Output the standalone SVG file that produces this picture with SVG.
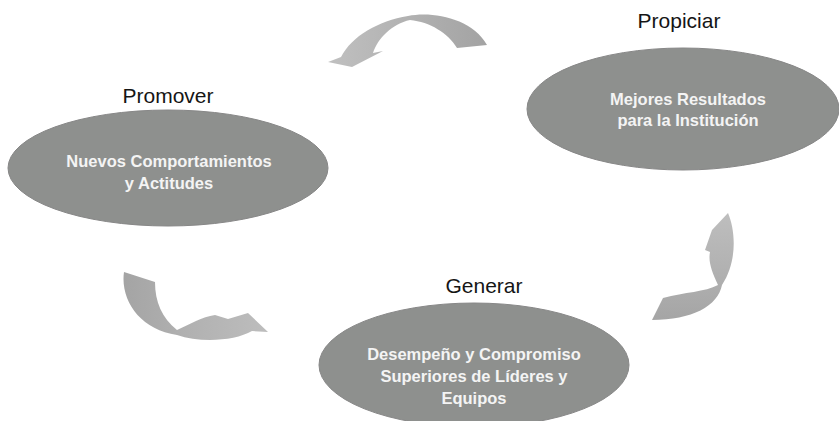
<svg xmlns="http://www.w3.org/2000/svg" width="839" height="421" viewBox="0 0 839 421">
<style>
.lbl{font-family:"Liberation Sans",Arial,sans-serif;font-size:21px;fill:#151515;text-anchor:middle}
.in{font-family:"Liberation Sans",Arial,sans-serif;font-size:16.5px;font-weight:bold;fill:#f4f4f4;text-anchor:middle}
.el{fill:#8e908e;stroke:#878787;stroke-width:1}
.arr{stroke:none}
</style>
<defs>
<linearGradient id="gTop" x1="1" y1="0" x2="0" y2="0">
<stop offset="0" stop-color="#a3a3a3"/><stop offset="0.45" stop-color="#b0b0b0"/><stop offset="1" stop-color="#c0c0c0"/>
</linearGradient>
<linearGradient id="gLeft" x1="0" y1="0" x2="1" y2="0">
<stop offset="0" stop-color="#a4a4a4"/><stop offset="0.4" stop-color="#b0b0b0"/><stop offset="1" stop-color="#bdbdbd"/>
</linearGradient>
<linearGradient id="gRight" x1="0" y1="1" x2="0" y2="0">
<stop offset="0" stop-color="#a5a5a5"/><stop offset="0.5" stop-color="#b2b2b2"/><stop offset="1" stop-color="#bebebe"/>
</linearGradient>
</defs>
<rect width="839" height="421" fill="#ffffff"/>
<g id="connectors">
<path class="arr" fill="url(#gTop)" d="M 408,16 C 432,11 472,18 487,45 L 457,48 C 448,33 430,22 410,20 C 392,24 378,38 373,53 L 383,51 L 352,67 L 328,62 L 341,57 C 352,36 378,21 408,16 Z"/>
<path class="arr" fill="url(#gLeft)" d="M 124,272 L 155,282 C 155,302 162,318 177,330 C 190,324 202,317 215,315 L 228,319 L 248,313 L 268,332 L 252,331 C 235,341 200,343 177,335 C 140,330 120,300 124,272 Z"/>
<path class="arr" fill="url(#gRight)" d="M 652,320 L 663,298 C 685,292 705,292 718,285 C 712,272 708,262 710,252 L 705,250 L 712,230 L 728,213 C 736,232 737,262 722,285 C 718,306 692,320 652,320 Z"/>
</g>
<g id="node-promover">
<text class="lbl" x="168" y="103">Promover</text>
<ellipse class="el" cx="168" cy="168" rx="160" ry="58"/>
<text class="in" x="169" y="167">Nuevos Comportamientos</text>
<text class="in" x="169" y="189">y Actitudes</text>
</g>
<g id="node-propiciar">
<text class="lbl" x="679" y="28">Propiciar</text>
<ellipse class="el" cx="683" cy="109" rx="156" ry="61"/>
<text class="in" x="688" y="105">Mejores Resultados</text>
<text class="in" x="688" y="126">para la Institución</text>
</g>
<g id="node-generar">
<text class="lbl" x="484" y="293">Generar</text>
<ellipse class="el" cx="474" cy="365" rx="155" ry="62"/>
<text class="in" x="474" y="360">Desempeño y Compromiso</text>
<text class="in" x="474" y="382">Superiores de Líderes y</text>
<text class="in" x="474" y="404">Equipos</text>
</g>
</svg>
